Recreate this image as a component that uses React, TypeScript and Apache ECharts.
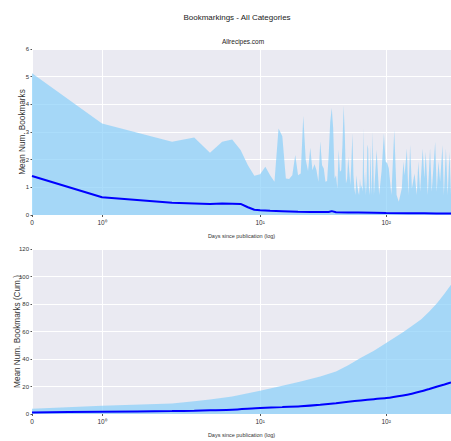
import React, { useEffect, useRef } from "react";
import * as echarts from "echarts";

// ---- data (days since publication) ----
const topDays = [
  0, 1, 2, 3, 4, 5, 6, 7, 8, 9, 10, 11, 12, 13, 14, 15, 16, 17, 18, 19, 20,
  21, 22, 23, 24, 25, 26, 27, 28, 29, 30, 31, 32, 33, 34, 35, 36, 37, 38, 39,
  40, 41, 42, 43, 44, 45, 46, 47, 48, 49, 50, 51, 52, 53, 54, 55, 56, 57, 58,
  59, 60, 61, 62, 63, 64, 65, 66, 67, 68, 69, 70, 71, 72, 73, 74, 75, 76, 77,
  78, 79, 80, 84, 88, 92, 96, 99, 102, 105, 110, 116, 121, 126, 133, 137, 140,
  146, 150, 155, 160, 168, 175, 180, 186, 195, 201, 206, 214, 223, 230, 245,
  252, 260, 268, 280, 287, 298, 308, 318, 327,
];
const topUpper = [
  5.12, 3.31, 2.65, 2.8, 2.25, 2.65, 2.73, 2.35, 1.8, 1.42, 1.47, 1.74, 1.44,
  1.2, 3.13, 2.85, 1.32, 1.3, 1.44, 2.17, 1.44, 1.5, 3.59, 2.0, 1.59, 2.43,
  1.62, 1.83, 1.62, 1.2, 2.67, 1.8, 1.68, 1.2, 1.23, 2.17, 3.37, 3.87, 3.13,
  1.32, 1.44, 0.96, 2.35, 1.56, 1.62, 2.53, 3.95, 2.89, 1.14, 1.32, 2.1, 1.56,
  1.08, 1.93, 2.95, 1.44, 0.96, 0.72, 1.44, 1.08, 0.84, 0.72, 1.32, 0.96, 1.08,
  0.84, 3.13, 0.96, 1.56, 0.72, 1.2, 2.55, 2.4, 0.96, 0.72, 2.53, 1.32, 0.72,
  3.0, 1.93, 0.72, 2.35, 0.72, 1.6, 2.95, 1.93, 1.87, 1.68, 0.72, 3.07, 0.72,
  0.48, 0.96, 1.93, 1.44, 2.4, 0.72, 2.53, 0.96, 1.5, 0.72, 1.93, 0.84, 2.4,
  1.32, 2.29, 0.72, 2.4, 0.84, 2.65, 0.84, 1.93, 1.2, 2.53, 0.72, 2.4, 0.72,
  2.29, 0.72,
];
const meanDays = [0, 1, 2, 3, 4, 5, 6, 7, 8, 9, 10, 12, 15, 20, 25, 30, 35, 37, 40, 50, 60, 80, 100, 150, 200, 250, 327];
const meanVals = [1.41, 0.64, 0.44, 0.42, 0.4, 0.42, 0.41, 0.4, 0.28, 0.19, 0.17, 0.15, 0.14, 0.12, 0.11, 0.11, 0.11, 0.14, 0.1, 0.09, 0.09, 0.08, 0.07, 0.06, 0.06, 0.05, 0.05];

const cumDays = [0, 1, 2, 3, 4, 6, 10, 15, 21, 30, 40, 50, 63, 80, 100, 136, 160, 190, 220, 255, 290, 327];
const cumUpper = [3.9, 6.0, 7.7, 9.3, 10.5, 12.8, 17, 20.5, 23.7, 27.2, 31, 35.5, 41, 46, 51.6, 59.5, 64, 69, 74.5, 81, 87.5, 94];
const cumMean = [1.1, 1.7, 2.1, 2.4, 2.7, 3.1, 4.4, 5.0, 5.6, 6.7, 7.9, 8.9, 9.9, 10.8, 11.6, 13.5, 14.8, 16.5, 18.2, 20, 21.5, 23];

const xTickDays = [0, 1, 10, 100];
const xTickLabels = ["0", "10⁰", "10¹", "10²"];
const xMaxDay = 327;

// symlog transform (linthresh = 2, linscale = 1, base 10)
const LINTHRESH = 2;
const LINSCALE_ADJ = 1 / (1 - 1 / 10);
function symlog(d: number): number {
  if (d <= LINTHRESH) return (d / LINTHRESH) * LINSCALE_ADJ;
  return LINSCALE_ADJ + Math.log10(d / LINTHRESH);
}

const FONT = "'Liberation Sans', Arial, sans-serif";
const FILL = "rgba(135,206,250,0.7)";

export default function App() {
  const ref = useRef<HTMLDivElement>(null);
  useEffect(() => {
    document.body.style.margin = "0";
    if (!ref.current) return;
    const chart = echarts.init(ref.current, null, { renderer: "svg" });
    const tickVals = xTickDays.map(symlog);
    const fmt = (v: number) => {
      let best = 0;
      tickVals.forEach((t, i) => {
        if (Math.abs(t - v) < Math.abs(tickVals[best] - v)) best = i;
      });
      return xTickLabels[best];
    };
    const xAxisBase = (gridIndex: number) => ({
      type: "value",
      gridIndex,
      min: 0,
      max: symlog(xMaxDay),
      name: "Days since publication (log)",
      nameLocation: "middle",
      nameGap: 18,
      nameMoveOverlap: false,
      nameTextStyle: { fontFamily: FONT, fontSize: 5.5, color: "#333" },
      axisLine: { show: false },
      axisTick: { show: true, length: 2, customValues: tickVals, lineStyle: { color: "#555" } },
      axisLabel: { customValues: tickVals, formatter: fmt, margin: 4, fontFamily: FONT, fontSize: 6.5, color: "#333" },
      splitLine: { show: true, lineStyle: { color: "#ffffff", width: 1 } },
    });
    const yAxisBase = (gridIndex: number, max: number, interval: number, name: string, gap: number) => ({
      type: "value",
      gridIndex,
      min: 0,
      max,
      interval,
      name,
      nameLocation: "middle",
      nameGap: gap,
      nameMoveOverlap: false,
      nameTextStyle: { fontFamily: FONT, fontSize: 8.2, color: "#333" },
      axisLine: { show: false },
      axisTick: { show: true, length: 1.5, lineStyle: { color: "#555" } },
      axisLabel: { margin: 3, fontFamily: FONT, fontSize: 6, color: "#333" },
      splitLine: { show: true, lineStyle: { color: "#ffffff", width: 1.2 } },
    });
    chart.setOption({
      animation: false,
      title: [
        { text: "Bookmarkings - All Categories", left: 237, top: 13, textAlign: "center", padding: 0,
          textStyle: { fontFamily: FONT, fontSize: 8, fontWeight: "normal", color: "#222" } },
        { text: "Allrecipes.com", left: 243, top: 38, textAlign: "center", padding: 0,
          textStyle: { fontFamily: FONT, fontSize: 6.5, fontWeight: "normal", color: "#222" } },
      ],
      grid: [
        { left: 32, right: 0, top: 49, height: 166, backgroundColor: "#EAEAF2", show: true, borderWidth: 0 },
        { left: 32, right: 0, top: 249, height: 165, backgroundColor: "#EAEAF2", show: true, borderWidth: 0 },
      ],
      xAxis: [xAxisBase(0), xAxisBase(1)],
      yAxis: [
        yAxisBase(0, 6, 1, "Mean Num. Bookmarks", 6),
        yAxisBase(1, 120, 20, "Mean Num. Bookmarks (Cum.)", 11),
      ],
      series: [
        {
          type: "line", xAxisIndex: 0, yAxisIndex: 0, symbol: "none",
          data: topDays.map((d, i) => [symlog(d), topUpper[i]]),
          lineStyle: { width: 0 }, areaStyle: { color: FILL, opacity: 1 }, z: 2,
        },
        {
          type: "line", xAxisIndex: 0, yAxisIndex: 0, symbol: "none",
          data: meanDays.map((d, i) => [symlog(d), meanVals[i]]),
          lineStyle: { width: 2, color: "#0000ff" }, z: 3,
        },
        {
          type: "line", xAxisIndex: 1, yAxisIndex: 1, symbol: "none",
          data: cumDays.map((d, i) => [symlog(d), cumUpper[i]]),
          lineStyle: { width: 0 }, areaStyle: { color: FILL, opacity: 1 }, z: 2,
        },
        {
          type: "line", xAxisIndex: 1, yAxisIndex: 1, symbol: "none", smooth: 0.2,
          data: cumDays.map((d, i) => [symlog(d), cumMean[i]]),
          lineStyle: { width: 2, color: "#0000ff" }, z: 3,
        },
      ],
    });
    return () => chart.dispose();
  }, []);
  return <div ref={ref} style={{ width: 451, height: 441 }} />;
}
